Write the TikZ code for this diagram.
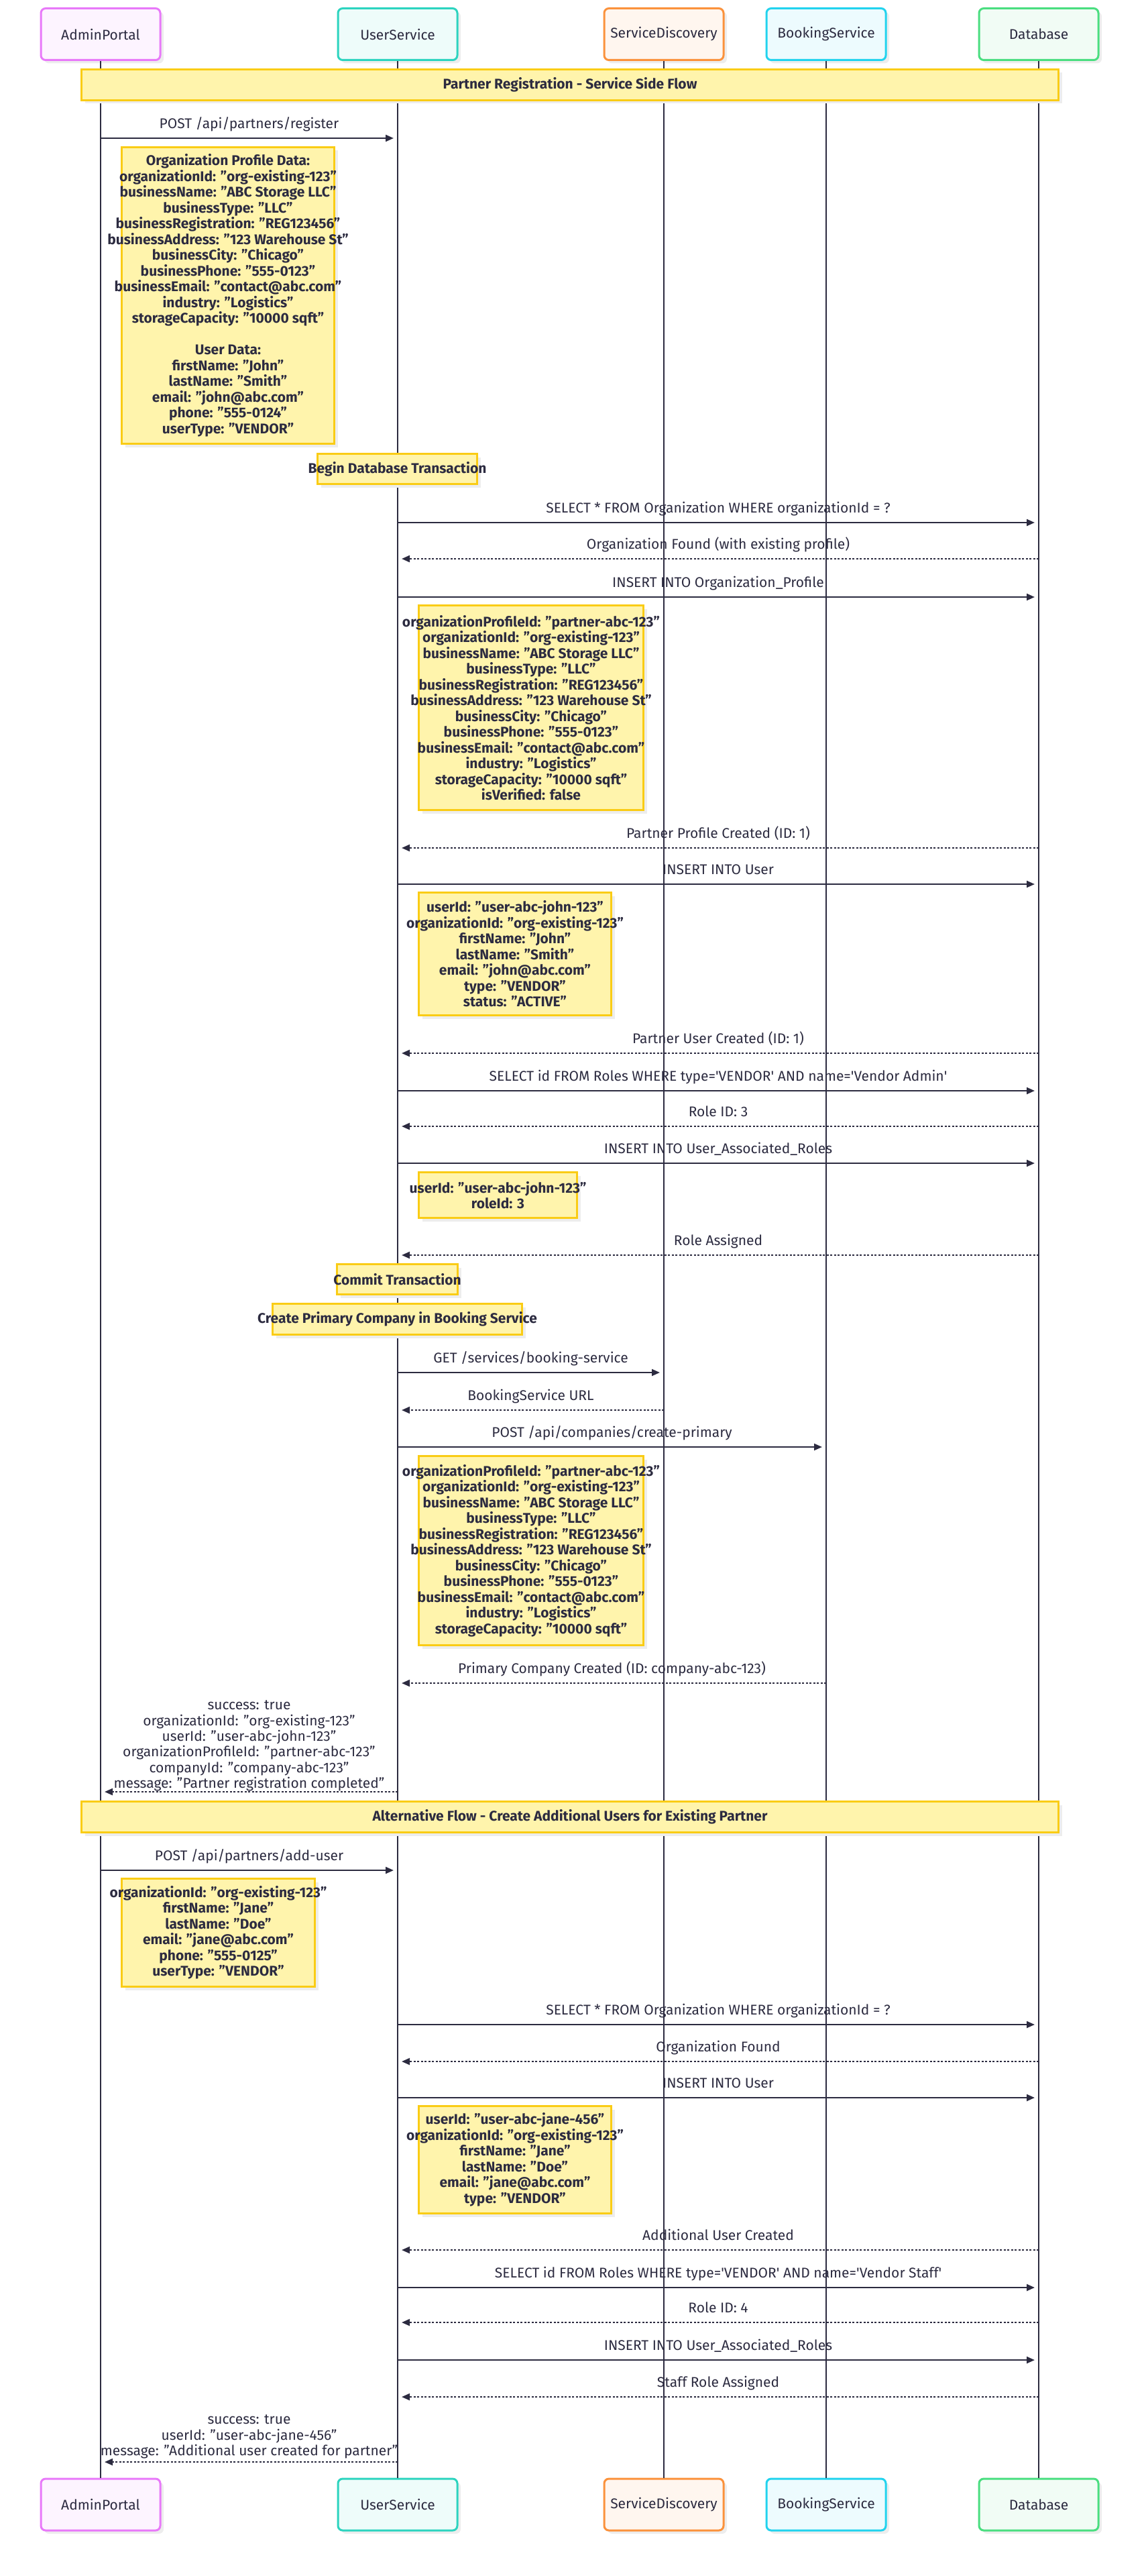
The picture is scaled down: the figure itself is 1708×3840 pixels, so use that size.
\documentclass[tikz,border=0pt]{standalone}
\usepackage{fontspec}
\setmainfont{Fira Sans}
\usetikzlibrary{positioning,arrows.meta,shadows}

\definecolor{ink}{HTML}{2C2B40}
\definecolor{notefill}{HTML}{FFF4AC}
\definecolor{noteline}{HTML}{FACC15}
\definecolor{apc}{HTML}{E879F9}
\definecolor{usc}{HTML}{2DD4BF}
\definecolor{sdc}{HTML}{FB923C}
\definecolor{bsc}{HTML}{22D3EE}
\definecolor{dbc}{HTML}{4ADE80}

\newcommand{\msgfont}{\fontsize{21}{23.3}\selectfont}
\newcommand{\notefont}{\bfseries\fontsize{21}{23.5}\selectfont}
\newcommand{\sq}{\textquotesingle}

\begin{document}
\begin{tikzpicture}[x=1pt,y=-1pt,
  every node/.style={text=ink},
  boxshadow/.style={drop shadow={shadow xshift=5pt,shadow yshift=-5pt,fill=black!7,opacity=1}},
  actor/.style={draw=#1,fill=#1!8,line width=3pt,rounded corners=7pt,minimum width=178pt,minimum height=77pt,font=\msgfont,boxshadow},
  life/.style={draw=ink,line width=2pt},
  note/.style={draw=noteline,fill=notefill,line width=2.5pt,inner sep=0pt,font=\notefont,boxshadow},
  notetxt/.style={font=\notefont,align=center,inner sep=0pt},
  msg/.style={draw=ink,line width=2.2pt,-{Triangle[length=12pt,width=10pt]},shorten >=6pt},
  ret/.style={msg,dash pattern=on 3pt off 2.5pt},
  lbl/.style={midway,above=9pt,inner sep=0pt,text depth=4pt,font=\msgfont},
  retlbl/.style={midway,anchor=south,inner sep=0pt,align=center,font=\msgfont}
]
\useasboundingbox (0,0) rectangle (1708,3840);

% participants, top and bottom
\node[actor=apc] (AP) at (150,51) {AdminPortal};
\node[actor=usc] (US) at (593,51) {UserService};
\node[actor=sdc] (SD) at (990,51) {ServiceDiscovery};
\node[actor=bsc] (BS) at (1232,51) {BookingService};
\node[actor=dbc] (DB) at (1549,51) {Database};
\node[actor=apc] (AP2) at (150,3733.5) {AdminPortal};
\node[actor=usc] (US2) at (593,3733.5) {UserService};
\node[actor=sdc] (SD2) at (990,3733.5) {ServiceDiscovery};
\node[actor=bsc] (BS2) at (1232,3733.5) {BookingService};
\node[actor=dbc] (DB2) at (1549,3733.5) {Database};
\foreach \p in {AP,US,SD,BS,DB}
  \draw[life] (\p) -- (\p2);

% message rows
\foreach \n/\y in {1/206,2/779,3/833,4/890,5/1264,6/1318,7/1570,8/1626,9/1679,10/1734,
  11/1871,12/2046,13/2102,14/2157,15/2509,16/2671,17/2788,18/3018,19/3073,20/3127,
  21/3354,22/3410,23/3462,24/3518,25/3573,26/3670}
  \coordinate (r\n) at (0,\y);

% section banners
\node[note,minimum width=1457pt,minimum height=46pt] (bn1) at (850,126.5) {Partner Registration - Service Side Flow};
\node[note,minimum width=1457pt,minimum height=46pt] (bn2) at (850,2708.5) {Alternative Flow - Create Additional Users for Existing Partner};

% notes
\node[note,minimum width=317pt,minimum height=442pt] (n1) at (340,440.5) {};
\node[notetxt] (n1t) at (n1) {Organization Profile Data:\\
organizationId: "org-existing-123"\\
businessName: "ABC Storage LLC"\\
businessType: "LLC"\\
businessRegistration: "REG123456"\\
businessAddress: "123 Warehouse St"\\
businessCity: "Chicago"\\
businessPhone: "555-0123"\\
businessEmail: "contact@abc.com"\\
industry: "Logistics"\\
storageCapacity: "10000 sqft"\\
~\\
User Data:\\
firstName: "John"\\
lastName: "Smith"\\
email: "john@abc.com"\\
phone: "555-0124"\\
userType: "VENDOR"};

\node[note,minimum width=238pt,minimum height=45pt] (tx1) at (592.5,699) {};
\node[notetxt] (tx1t) at (tx1) {Begin Database Transaction};

\node[note,minimum width=335pt,minimum height=305pt] (n2) at (792,1055) {};
\node[notetxt] (n2t) at (n2) {organizationProfileId: "partner-abc-123"\\
organizationId: "org-existing-123"\\
businessName: "ABC Storage LLC"\\
businessType: "LLC"\\
businessRegistration: "REG123456"\\
businessAddress: "123 Warehouse St"\\
businessCity: "Chicago"\\
businessPhone: "555-0123"\\
businessEmail: "contact@abc.com"\\
industry: "Logistics"\\
storageCapacity: "10000 sqft"\\
isVerified: false};

\node[note,minimum width=287pt,minimum height=183pt] (n3) at (768,1422) {};
\node[notetxt] (n3t) at (n3) {userId: "user-abc-john-123"\\
organizationId: "org-existing-123"\\
firstName: "John"\\
lastName: "Smith"\\
email: "john@abc.com"\\
type: "VENDOR"\\
status: "ACTIVE"};

\node[note,minimum width=236pt,minimum height=68pt] (n4) at (742.5,1781.5) {};
\node[notetxt] (n4t) at (n4) {userId: "user-abc-john-123"\\
roleId: 3};

\node[note,minimum width=180pt,minimum height=45pt] (tx2) at (592.5,1907) {};
\node[notetxt] (tx2t) at (tx2) {Commit Transaction};
\node[note,minimum width=372pt,minimum height=46pt] (cp) at (592.5,1966.5) {};
\node[notetxt] (cpt) at (cp) {Create Primary Company in Booking Service};

\node[note,minimum width=335pt,minimum height=282pt] (n5) at (792,2311.5) {};
\node[notetxt] (n5t) at (n5) {organizationProfileId: "partner-abc-123"\\
organizationId: "org-existing-123"\\
businessName: "ABC Storage LLC"\\
businessType: "LLC"\\
businessRegistration: "REG123456"\\
businessAddress: "123 Warehouse St"\\
businessCity: "Chicago"\\
businessPhone: "555-0123"\\
businessEmail: "contact@abc.com"\\
industry: "Logistics"\\
storageCapacity: "10000 sqft"};

\node[note,minimum width=288pt,minimum height=161pt] (n6) at (325.5,2881) {};
\node[notetxt] (n6t) at (n6) {organizationId: "org-existing-123"\\
firstName: "Jane"\\
lastName: "Doe"\\
email: "jane@abc.com"\\
phone: "555-0125"\\
userType: "VENDOR"};

\node[note,minimum width=287pt,minimum height=160pt] (n7) at (768,3219.5) {};
\node[notetxt] (n7t) at (n7) {userId: "user-abc-jane-456"\\
organizationId: "org-existing-123"\\
firstName: "Jane"\\
lastName: "Doe"\\
email: "jane@abc.com"\\
type: "VENDOR"};

% messages
\draw[msg] (AP |- r1) -- node[lbl] (m1) {POST /api/partners/register} (US |- r1);
\draw[msg] (US |- r2) -- node[lbl] (m2) {SELECT * FROM Organization WHERE organizationId = ?} (DB |- r2);
\draw[ret] (DB |- r3) -- node[lbl] (m3) {Organization Found (with existing profile)} (US |- r3);
\draw[msg] (US |- r4) -- node[lbl] (m4) {INSERT INTO Organization\_Profile} (DB |- r4);
\draw[ret] (DB |- r5) -- node[lbl] (m5) {Partner Profile Created (ID: 1)} (US |- r5);
\draw[msg] (US |- r6) -- node[lbl] (m6) {INSERT INTO User} (DB |- r6);
\draw[ret] (DB |- r7) -- node[lbl] (m7) {Partner User Created (ID: 1)} (US |- r7);
\draw[msg] (US |- r8) -- node[lbl] (m8) {SELECT id FROM Roles WHERE type=\sq VENDOR\sq\ AND name=\sq Vendor Admin\sq} (DB |- r8);
\draw[ret] (DB |- r9) -- node[lbl] (m9) {Role ID: 3} (US |- r9);
\draw[msg] (US |- r10) -- node[lbl] (m10) {INSERT INTO User\_Associated\_Roles} (DB |- r10);
\draw[ret] (DB |- r11) -- node[lbl] (m11) {Role Assigned} (US |- r11);
\draw[msg] (US |- r12) -- node[lbl] (m12) {GET /services/booking-service} (SD |- r12);
\draw[ret] (SD |- r13) -- node[lbl] (m13) {BookingService URL} (US |- r13);
\draw[msg] (US |- r14) -- node[lbl] (m14) {POST /api/companies/create-primary} (BS |- r14);
\draw[ret] (BS |- r15) -- node[lbl] (m15) {Primary Company Created (ID: company-abc-123)} (US |- r15);
\draw[ret] (US |- r16) -- node[retlbl] (m16) {success: true\\
organizationId: "org-existing-123"\\
userId: "user-abc-john-123"\\
organizationProfileId: "partner-abc-123"\\
companyId: "company-abc-123"\\
message: "Partner registration completed"} (AP |- r16);
\draw[msg] (AP |- r17) -- node[lbl] (m17) {POST /api/partners/add-user} (US |- r17);
\draw[msg] (US |- r18) -- node[lbl] (m18) {SELECT * FROM Organization WHERE organizationId = ?} (DB |- r18);
\draw[ret] (DB |- r19) -- node[lbl] (m19) {Organization Found} (US |- r19);
\draw[msg] (US |- r20) -- node[lbl] (m20) {INSERT INTO User} (DB |- r20);
\draw[ret] (DB |- r21) -- node[lbl] (m21) {Additional User Created} (US |- r21);
\draw[msg] (US |- r22) -- node[lbl] (m22) {SELECT id FROM Roles WHERE type=\sq VENDOR\sq\ AND name=\sq Vendor Staff\sq} (DB |- r22);
\draw[ret] (DB |- r23) -- node[lbl] (m23) {Role ID: 4} (US |- r23);
\draw[msg] (US |- r24) -- node[lbl] (m24) {INSERT INTO User\_Associated\_Roles} (DB |- r24);
\draw[ret] (DB |- r25) -- node[lbl] (m25) {Staff Role Assigned} (US |- r25);
\draw[ret] (US |- r26) -- node[retlbl,yshift=4pt] (m26) {success: true\\
userId: "user-abc-jane-456"\\
message: "Additional user created for partner"} (AP |- r26);
\end{tikzpicture}
\end{document}
